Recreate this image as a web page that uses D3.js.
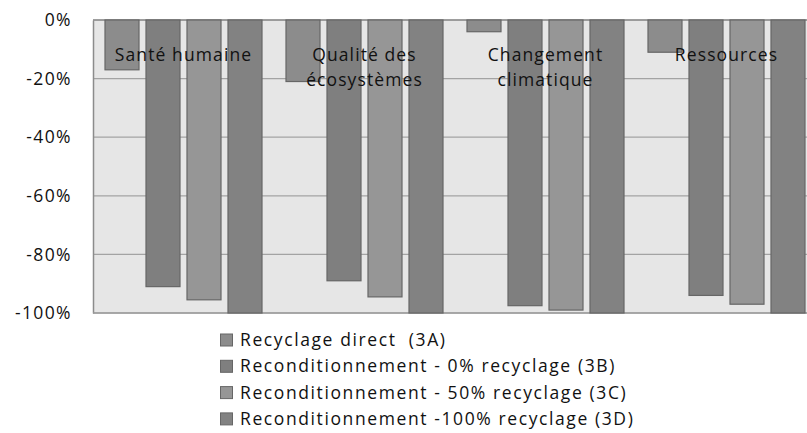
<!DOCTYPE html>
<html>
<head>
<meta charset="utf-8">
<script src="https://cdn.jsdelivr.net/npm/d3@7"></script>
<style>
  body { margin: 0; background: #fff; }
  svg { display: block; font-family: "Open Sans", sans-serif; }
  text { white-space: pre; }
</style>
</head>
<body>
<div id="chart"></div>
<script>
// Catégories (lignes de texte)
const categories = [
  ["Santé humaine"],
  ["Qualité des", "écosystèmes"],
  ["Changement", "climatique"],
  ["Ressources"]
];
const series = [
  "Recyclage direct  (3A)",
  "Reconditionnement - 0% recyclage (3B)",
  "Reconditionnement - 50% recyclage (3C)",
  "Reconditionnement -100% recyclage (3D)"
];
// valeurs en % par série
const valeurs3A = [-17, -21, -4, -11];
const valeurs3B = [-91, -89, -97.5, -94];
const valeurs3C = [-95.5, -94.5, -99, -97];
const valeurs3D = [-100, -100, -100, -100];
const yTicks = [0, -20, -40, -60, -80, -100];

const colors = ["#8c8c8c", "#7f7f7f", "#969696", "#828282"];
const allValues = [valeurs3A, valeurs3B, valeurs3C, valeurs3D];

const width = 807, height = 433;
const plot = { left: 93, top: 20, right: 817, bottom: 313 };

const svg = d3.select("#chart").append("svg")
  .attr("width", width).attr("height", height);

const x0 = d3.scaleBand()
  .domain(d3.range(categories.length))
  .range([plot.left, plot.right]);

// 4 barres de 34px, pas de 41px
const x1 = d3.scaleBand()
  .domain(d3.range(series.length))
  .range([12, 12 + 4 * 41 - 7])
  .paddingInner(7 / 41).paddingOuter(0);

const y = d3.scaleLinear().domain([0, -100]).range([plot.top, plot.bottom]);

// fond
svg.append("rect")
  .attr("x", plot.left).attr("y", plot.top)
  .attr("width", plot.right - plot.left).attr("height", plot.bottom - plot.top)
  .attr("fill", "#e6e6e6");

// grille
svg.append("g").selectAll("line")
  .data(yTicks)
  .join("line")
  .attr("x1", plot.left).attr("x2", plot.right)
  .attr("y1", d => y(d)).attr("y2", d => y(d))
  .attr("stroke", "#a3a3a3").attr("stroke-width", 1.2);

// axe y
const yAxis = svg.append("g")
  .attr("transform", `translate(${plot.left},0)`)
  .call(d3.axisLeft(y).tickValues(yTicks).tickSize(0).tickPadding(21)
    .tickFormat(d => d + "%"));
yAxis.select(".domain").attr("stroke", "#8c8c8c").attr("stroke-width", 1.5);
yAxis.selectAll("text").attr("font-size", 17.5).attr("fill", "#111")
  .attr("letter-spacing", 1.4)
  .attr("font-family", "Open Sans, sans-serif");

// bordure haut/bas
svg.append("line").attr("x1", plot.left).attr("x2", plot.right)
  .attr("y1", plot.top).attr("y2", plot.top).attr("stroke", "#8c8c8c").attr("stroke-width", 1.5);
svg.append("line").attr("x1", plot.left).attr("x2", plot.right)
  .attr("y1", plot.bottom).attr("y2", plot.bottom).attr("stroke", "#9a9a9a").attr("stroke-width", 1.5);

// barres
const groups = svg.append("g").selectAll("g")
  .data(categories)
  .join("g")
  .attr("transform", (d, i) => `translate(${x0(i)},0)`);

groups.selectAll("rect")
  .data((d, i) => allValues.map((vals, s) => ({ s, v: vals[i] })))
  .join("rect")
  .attr("x", d => x1(d.s))
  .attr("y", y(0))
  .attr("width", x1.bandwidth())
  .attr("height", d => y(d.v) - y(0))
  .attr("fill", d => colors[d.s])
  .attr("stroke", "#666")
  .attr("stroke-width", 1.2);

// étiquettes des catégories
groups.append("text")
  .attr("x", x0.bandwidth() / 2)
  .attr("y", 61)
  .attr("text-anchor", "middle")
  .attr("font-size", 17.5)
  .attr("letter-spacing", 1.1)
  .attr("fill", "#111")
  .selectAll("tspan")
  .data(d => d)
  .join("tspan")
  .attr("x", x0.bandwidth() / 2)
  .attr("dy", (d, i) => i ? 25 : 0)
  .text(d => d);

// légende
const legend = svg.append("g").attr("transform", "translate(220,340)");
const item = legend.selectAll("g")
  .data(series)
  .join("g")
  .attr("transform", (d, i) => `translate(0,${i * 26.3})`);
item.append("rect")
  .attr("x", 0.5).attr("y", -6).attr("width", 12).attr("height", 12)
  .attr("fill", (d, i) => colors[i]).attr("stroke", "#666");
item.append("text")
  .attr("x", 20).attr("y", 0).attr("dy", "0.35em")
  .attr("font-size", 17.5).attr("letter-spacing", 1.6).attr("fill", "#111")
  .text(d => d);
</script>
</body>
</html>
